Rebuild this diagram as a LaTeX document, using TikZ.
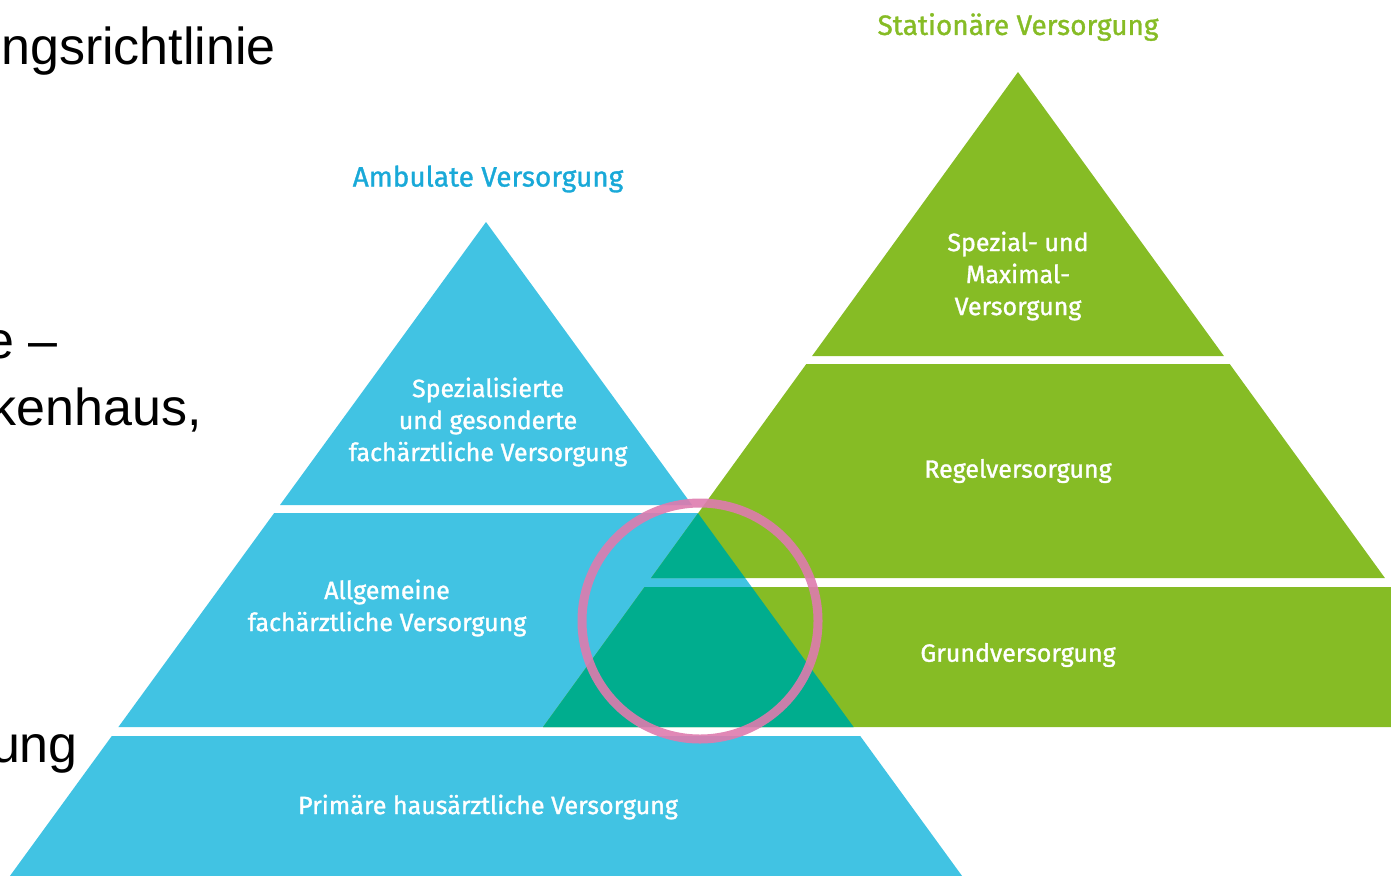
\documentclass[tikz,border=0pt]{standalone}
\usepackage{fontspec}
\setmainfont{Liberation Sans}
\newfontfamily\labfont[FakeBold=1.2]{Fira Sans}
\definecolor{ablue}{HTML}{41C3E3}
\definecolor{ablueT}{HTML}{19A9D8}
\definecolor{sgreen}{HTML}{86BC25}
\definecolor{steal}{HTML}{00AD8E}
\definecolor{rpink}{HTML}{DE7BAE}
\tikzset{
  lab/.style={text=white, align=center, inner sep=0pt, font={\labfont\fontsize{25}{32}\selectfont}},
  ttl/.style={inner sep=0pt, font={\labfont\fontsize{28}{34}\selectfont}},
  bg/.style={inner sep=0pt, anchor=base east, text=black, font={\fontsize{52}{62}\selectfont}},
}
\begin{document}
\begin{tikzpicture}[x=1pt,y=-1pt]
\useasboundingbox (0,0) rectangle (1391,875);
% background text fragments
\node[bg] (t1) at (276,64) {ngsrichtlinie};
\node[bg] (t2) at (58,358) {e --};
\node[bg] (t3) at (202,425) {kenhaus,};
\node[bg] (t4) at (78,762) {ung};
% blue pyramid
\fill[ablue] (486,222) -- (692.0,505) -- (280.0,505) -- cycle;
\fill[ablue] (274.2,513) -- (697.8,513) -- (853.6,727) -- (118.4,727) -- cycle;
\fill[ablue] (111.8,736) -- (860.2,736) -- (965.0,880) -- (7.0,880) -- cycle;
% green pyramid
\fill[sgreen] (1018,72) -- (1223.9,356) -- (812.1,356) -- cycle;
\fill[sgreen] (806.3,364) -- (1229.7,364) -- (1384.9,578) -- (651.1,578) -- cycle;
\fill[sgreen] (644.6,587) -- (1400,587) -- (1400,727) -- (543.1,727) -- cycle;
% overlap
\begin{scope}
\clip (486,222) -- (692.0,505) -- (280.0,505) -- cycle
      (274.2,513) -- (697.8,513) -- (853.6,727) -- (118.4,727) -- cycle
      (111.8,736) -- (860.2,736) -- (965.0,880) -- (7.0,880) -- cycle;
\fill[steal] (1018,72) -- (1223.9,356) -- (812.1,356) -- cycle;
\fill[steal] (806.3,364) -- (1229.7,364) -- (1384.9,578) -- (651.1,578) -- cycle;
\fill[steal] (644.6,587) -- (1400,587) -- (1400,727) -- (543.1,727) -- cycle;
\end{scope}
% circle
\draw[rpink, line width=9pt, opacity=0.9] (700,621) circle[radius=118];
% titles
\node[ttl, text=sgreen] (st) at (1018,27) {Stationäre Versorgung};
\node[ttl, text=ablueT] (am) at (488,179) {Ambulate Versorgung};
% labels
\node[lab] (a1) at (488,422) {Spezialisierte\\und gesonderte\\fachärztliche Versorgung};
\node[lab] (a2) at (387,608) {Allgemeine\\fachärztliche Versorgung};
\node[lab] (a3) at (488,807) {Primäre hausärztliche Versorgung};
\node[lab] (s1) at (1018,276) {Spezial- und\\Maximal-\\Versorgung};
\node[lab] (s2) at (1018,471) {Regelversorgung};
\node[lab] (s3) at (1018,655) {Grundversorgung};
\end{tikzpicture}
\end{document}
